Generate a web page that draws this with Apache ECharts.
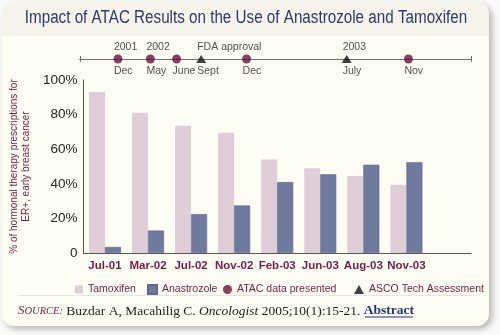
<!DOCTYPE html>
<html>
<head>
<meta charset="utf-8">
<script src="https://cdn.jsdelivr.net/npm/echarts@6/dist/echarts.min.js"></script>
<style>
  html, body { margin: 0; padding: 0; background: #fafaf8; }
  #chart { width: 500px; height: 335px; }
</style>
</head>
<body>
<div id="chart"></div>
<script>
// Share of hormonal therapy prescriptions (%), by survey month
const categories = ['Jul-01', 'Mar-02', 'Jul-02', 'Nov-02', 'Feb-03', 'Jun-03', 'Aug-03', 'Nov-03'];
const tamoxifen = [93, 81, 73.5, 69.5, 54, 49, 44.5, 39.5];
const anastrozole = [3.5, 13, 22.5, 27.5, 41, 45.5, 51, 52.5];

// Event timeline: position along the schematic line (0-100), year caption, month
const atacPos = [9.7, 18, 24.7, 42.6, 84];
const atacYear = ['2001', '2002', '', '', ''];
const atacMonth = ['Dec', 'May', 'June', 'Dec', 'Nov'];
const ascoPos = [31, 68.2];
const ascoYear = ['FDA approval', '2003'];
const ascoMonth = ['Sept', 'July'];

const SANS = "'Liberation Sans', Arial, Helvetica, sans-serif";
const SERIF = "'Liberation Serif', 'DejaVu Serif', serif";
const MAROON = '#7a1a47';
const TITLE = 'Impact of ATAC Results on the Use of Anastrozole and Tamoxifen';

// one empty slot after the last survey keeps the axis running under the timeline
const axisSlots = categories.concat(['']);

function eventPoints(pos, year, month) {
  return pos.map((p, i) => ({ value: [p, 0], year: year[i], month: month[i] }));
}

const eventLabel = {
  show: true,
  position: 'inside',
  align: 'left',
  offset: [-4, 0.5],
  formatter: p => '{t|' + (p.data.year || ' ') + '}\n{g| }\n{b|' + p.data.month + '}',
  rich: {
    t: { fontFamily: SANS, fontSize: 10.5, color: '#242424', lineHeight: 12 },
    g: { fontSize: 10, lineHeight: 12 },
    b: { fontFamily: SANS, fontSize: 10.5, color: '#242424', lineHeight: 12 }
  }
};

const legendBase = {
  top: 279,
  itemWidth: 8,
  itemHeight: 8,
  selectedMode: false,
  textStyle: { fontFamily: SANS, fontSize: 10.5, color: MAROON }
};

const chart = echarts.init(document.getElementById('chart'), null, { renderer: 'canvas' });

chart.setOption({
  backgroundColor: '#fafaf8',
  animation: false,
  graphic: [
    {
      type: 'rect', z: -10, silent: true,
      shape: { x: 2, y: 2, width: 487, height: 324, r: 12 },
      style: { fill: '#fdfdf4', shadowBlur: 6, shadowOffsetX: 3, shadowOffsetY: 3, shadowColor: 'rgba(0,0,0,0.28)' }
    },
    {
      type: 'rect', z: -9, silent: true,
      shape: { x: 2, y: 2, width: 487, height: 34, r: [12, 12, 0, 0] },
      style: { fill: '#f6f4ea' }
    },
    {
      // chart title, set in a condensed width
      type: 'text', silent: true,
      x: 246, y: 18, scaleX: 0.845,
      style: {
        text: TITLE, align: 'center', verticalAlign: 'middle',
        fontFamily: SANS, fontSize: 18, fill: '#283b6d'
      }
    },
    {
      type: 'line', z: -8, silent: true,
      shape: { x1: 18, y1: 295.5, x2: 473, y2: 295.5 },
      style: { stroke: '#e2e5ec', lineWidth: 1 }
    },
    {
      type: 'text', silent: true,
      left: 18, top: 304,
      style: {
        text: '{sc|S}{sm|OURCE:} {n|Buzdar A, Macahilig C. }{i|Oncologist}{n| 2005;10(1):15-21. }{a|Abstract}',
        rich: {
          sc: { fontFamily: SERIF, fontStyle: 'italic', fontSize: 13, fill: MAROON },
          sm: { fontFamily: SERIF, fontStyle: 'italic', fontSize: 10.5, fill: MAROON },
          n: { fontFamily: SERIF, fontSize: 13.5, fill: '#1e1e1e' },
          i: { fontFamily: SERIF, fontStyle: 'italic', fontSize: 13.5, fill: '#1e1e1e' },
          a: { fontFamily: SERIF, fontWeight: 'bold', fontSize: 13.5, fill: '#1f3776' }
        }
      }
    },
    {
      type: 'line', silent: true,
      shape: { x1: 365, y1: 317, x2: 413, y2: 317 },
      style: { stroke: '#1f3776', lineWidth: 1 }
    }
  ],
  legend: [
    Object.assign({}, legendBase, { left: 70, data: [{ name: 'Tamoxifen', icon: 'rect' }] }),
    Object.assign({}, legendBase, { left: 142, itemWidth: 9, itemHeight: 9, data: [{ name: 'Anastrozole', icon: 'rect' }] }),
    Object.assign({}, legendBase, { left: 218, itemWidth: 9, itemHeight: 9, data: [{ name: 'ATAC data presented', icon: 'circle' }] }),
    Object.assign({}, legendBase, { left: 349, itemWidth: 10, itemHeight: 9, data: [{ name: 'ASCO Tech Assessment', icon: 'triangle' }] })
  ],
  grid: [
    { left: 67, right: 29, top: 80, bottom: 82 },
    { left: 80, right: 29, top: 59, height: 0 }
  ],
  xAxis: [
    {
      type: 'category',
      gridIndex: 0,
      data: axisSlots,
      axisLine: { lineStyle: { color: '#555', width: 1 } },
      axisTick: { inside: true, length: 3, lineStyle: { color: '#555' }, interval: (i) => i > 0 && i < 9 },
      axisLabel: { interval: 0, fontFamily: SANS, fontSize: 11.5, fontWeight: 'bold', color: MAROON, margin: 7 }
    },
    {
      type: 'value', gridIndex: 1, position: 'bottom', min: 0, max: 100, interval: 100,
      axisLine: { show: true, lineStyle: { color: '#707070', width: 1 } },
      axisTick: { show: true, length: 3, lineStyle: { color: '#707070' } },
      axisLabel: { show: false }, splitLine: { show: false }
    },
    {
      type: 'value', gridIndex: 1, position: 'top', min: 0, max: 100, interval: 100,
      axisLine: { show: true, lineStyle: { color: '#707070', width: 1 } },
      axisTick: { show: true, length: 3, lineStyle: { color: '#707070' } },
      axisLabel: { show: false }, splitLine: { show: false }
    }
  ],
  yAxis: [
    {
      type: 'value',
      gridIndex: 0,
      min: 0, max: 100, interval: 20,
      name: '% of hormonal therapy prescriptions for\nER+, early breast cancer',
      nameLocation: 'middle',
      nameRotate: 90,
      nameGap: 48,
      nameTextStyle: { fontFamily: SANS, fontSize: 10, color: MAROON, lineHeight: 12 },
      axisLine: { show: true, lineStyle: { color: '#555', width: 1 } },
      axisTick: { show: false },
      splitLine: { show: false },
      axisLabel: {
        fontFamily: SANS, fontSize: 13.5, color: '#262626', margin: 6,
        formatter: v => (v === 0 ? '0' : v + '%')
      }
    },
    { type: 'value', gridIndex: 1, min: -1, max: 1, show: false }
  ],
  series: [
    {
      name: 'Tamoxifen', type: 'bar', xAxisIndex: 0, yAxisIndex: 0,
      data: tamoxifen, barWidth: 16, barGap: '0%',
      itemStyle: { color: '#dfcdd7' }
    },
    {
      name: 'Anastrozole', type: 'bar', xAxisIndex: 0, yAxisIndex: 0,
      data: anastrozole, barWidth: 16, barGap: '0%',
      itemStyle: { color: '#6f7b9e', borderColor: '#5f6b8f', borderWidth: 0.6 }
    },
    {
      name: 'ATAC data presented', type: 'scatter', xAxisIndex: 1, yAxisIndex: 1,
      symbol: 'circle', symbolSize: 9,
      itemStyle: { color: '#6b0d39' },
      data: eventPoints(atacPos, atacYear, atacMonth),
      label: eventLabel
    },
    {
      name: 'ASCO Tech Assessment', type: 'scatter', xAxisIndex: 1, yAxisIndex: 1,
      symbol: 'triangle', symbolSize: [10, 8],
      itemStyle: { color: '#111111' },
      data: eventPoints(ascoPos, ascoYear, ascoMonth),
      label: eventLabel
    }
  ]
});
</script>
</body>
</html>
